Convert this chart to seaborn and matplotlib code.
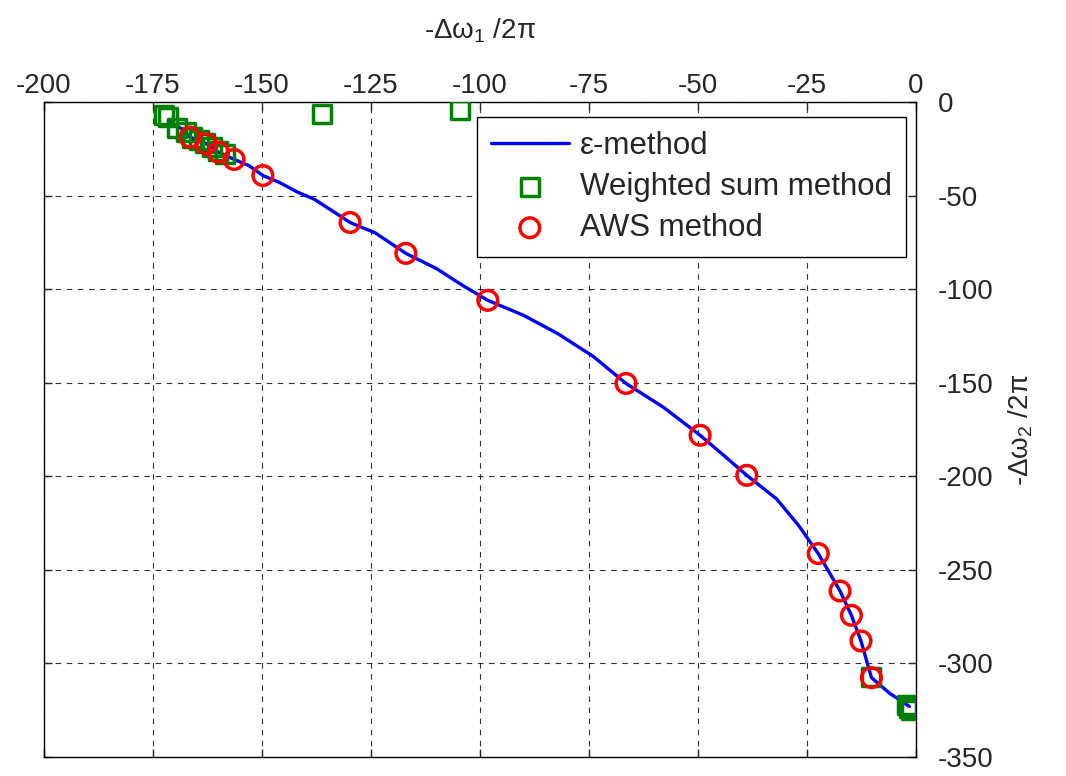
import numpy as np
import pandas as pd
import matplotlib
matplotlib.use('Agg')
import matplotlib.pyplot as plt
import seaborn as sns

# epsilon-method curve
eps_x = [-171.5, -168, -166.5, -162.8, -160, -156.4, -153, -149.8, -146, -142, -138, -134,
         -129.8, -124, -117, -110, -104, -98.2, -90, -82, -74, -66.5, -58, -49.5, -44,
         -38.8, -32, -27, -22.4, -17.4, -14.8, -12.6, -10.2, -6, -1.5]
eps_y = [-10, -15, -18.8, -22.3, -26.8, -30.7, -34, -39.3, -43, -48, -52, -58,
         -64.4, -70, -80.9, -89, -98, -106, -114, -124, -136, -150.4, -163, -178.1, -189,
         -199.5, -212, -226, -241.3, -261.3, -274.3, -288, -307.6, -316, -323]

# weighted sum method
ws_x = [-172.5, -171.5, -169.5, -167.5, -166, -164.5, -163, -161.5, -160, -158.5,
        -136.3, -104.6, -10.4, -2, -1.5, -1]
ws_y = [-7, -8, -14, -16, -19, -20.5, -22, -24, -26, -28,
        -6.3, -4.2, -307.3, -322, -324, -325]

# AWS method
aws_x = [-166.5, -162.8, -160, -156.4, -149.8, -129.8, -117, -98.2, -66.5, -49.5,
         -38.8, -22.4, -17.4, -14.8, -12.6, -10.2]
aws_y = [-18.8, -22.3, -26.8, -30.7, -39.3, -64.4, -80.9, -106, -150.4, -178.1,
         -199.5, -241.3, -261.3, -274.3, -288, -307.6]

sns.set_style('white')
plt.rcParams['font.family'] = ['Liberation Sans', 'DejaVu Sans']
plt.rcParams['mathtext.fontset'] = 'custom'
plt.rcParams['mathtext.rm'] = 'Liberation Sans'
plt.rcParams['mathtext.it'] = 'Liberation Sans'
plt.rcParams['axes.unicode_minus'] = False

fig = plt.figure(figsize=(10.66, 7.76), dpi=100)
ax = fig.add_axes([0.0413, 0.0245, 0.8179, 0.8441])

eps_df = pd.DataFrame({'x': eps_x, 'y': eps_y})
sns.lineplot(data=eps_df, x='x', y='y', sort=False, color='#0000ff', lw=2.4,
             ax=ax, label='ε-method', zorder=2)
ws_df = pd.DataFrame({'x': ws_x, 'y': ws_y})
sns.scatterplot(data=ws_df, x='x', y='y', marker='s', s=170, facecolor='none',
                edgecolor='#008000', linewidth=2.5, ax=ax, label='Weighted sum method', zorder=3)
aws_df = pd.DataFrame({'x': aws_x, 'y': aws_y})
sns.scatterplot(data=aws_df, x='x', y='y', marker='o', s=200, facecolor='none',
                edgecolor='#ff0000', linewidth=2.5, ax=ax, label='AWS method', zorder=4)

ax.set_xlim(-200, 0)
ax.set_ylim(-350, 0)
ax.set_xticks(np.arange(-200, 1, 25))
ax.set_yticks(np.arange(-350, 1, 50))
ax.xaxis.tick_top()
ax.yaxis.tick_right()
ax.tick_params(axis='both', which='both', direction='in', length=6, width=1,
               labelsize=20, top=True, bottom=True, left=True, right=True,
               labeltop=True, labelbottom=False, labelright=True, labelleft=False)
ax.tick_params(axis='x', pad=2)
ax.tick_params(axis='y', pad=16)
ax.grid(True, color='black', linestyle=(0, (5, 5)), linewidth=0.8, alpha=0.8)
for s in ax.spines.values():
    s.set_color('black')
    s.set_linewidth(1)

ax.set_xlabel(r'-Δω$_1$ /2π', fontsize=20, labelpad=25)
ax.xaxis.set_label_position('top')
ax.set_ylabel(r'-Δω$_2$ /2π', fontsize=20, labelpad=9)
ax.yaxis.set_label_position('right')

leg = ax.legend(loc='upper right', bbox_to_anchor=(0.9885, 0.977), fontsize=22.5,
                frameon=True, fancybox=False, edgecolor='black', framealpha=1,
                handlelength=2.5, handletextpad=0.35, borderpad=0.45, labelspacing=0.35,
                borderaxespad=0)
leg.get_frame().set_linewidth(1)

fig.savefig('out.png', dpi=100)
